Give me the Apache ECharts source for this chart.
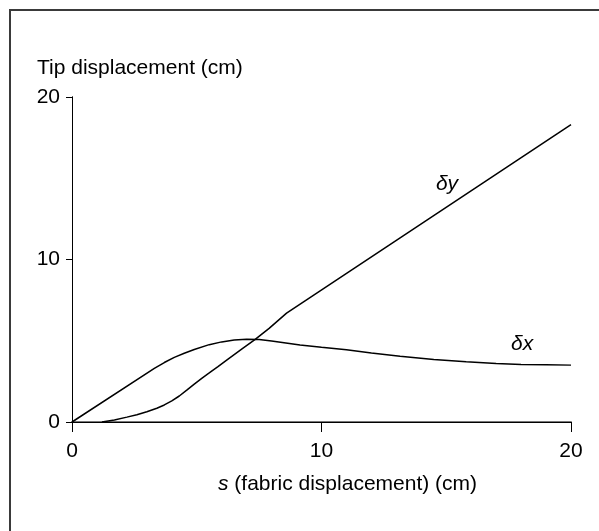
<!DOCTYPE html>
<html>
<head>
<meta charset="utf-8">
<script src="https://cdn.jsdelivr.net/npm/echarts@6/dist/echarts.min.js"></script>
<style>html,body{margin:0;padding:0;background:#fff;}#c{width:599px;height:531px;}</style>
</head>
<body>
<div id="c"></div>
<script>
// δy curve (s, displacement)
const dyS = [1.2, 1.7, 2.2, 2.6, 3.0, 3.4, 3.7, 4.0, 4.3, 4.6, 4.9, 5.2, 5.5, 5.85, 6.2, 6.8, 7.33, 7.9, 8.6, 20];
const dyV = [0, 0.12, 0.3, 0.45, 0.63, 0.85, 1.05, 1.3, 1.6, 1.96, 2.33, 2.69, 3.02, 3.41, 3.81, 4.48, 5.07, 5.76, 6.7, 18.3];
// δx curve
const dxS = [0, 3.3, 3.7, 4.1, 4.5, 4.9, 5.5, 6.0, 6.5, 7.0, 7.5, 8.0, 8.5, 9.14, 10, 11, 12, 13.15, 14.5, 15.8, 17, 18, 19, 20];
const dxV = [0, 3.3, 3.66, 3.98, 4.23, 4.46, 4.76, 4.93, 5.04, 5.09, 5.07, 4.98, 4.88, 4.74, 4.6, 4.44, 4.25, 4.05, 3.85, 3.71, 3.6, 3.54, 3.52, 3.5];
const xTicks = [0, 10, 20];
const yTicks = [0, 10, 20];
const labelDy = {s: 15.03, v: 14.65, text: 'δy'};
const labelDx = {s: 18.04, v: 4.8, text: 'δx'};

const FONT = '"Liberation Sans", Arial, sans-serif';
const FS = 21;
const chart = echarts.init(document.getElementById('c'), null, {renderer: 'canvas'});
const zip = (a, b) => a.map((v, i) => [v, b[i]]);
function mk(l) {
  return {
    symbol: 'rect', symbolSize: 1, silent: true,
    itemStyle: {color: 'rgba(0,0,0,0)'},
    label: {show: true, position: 'inside', formatter: l.text, fontFamily: FONT, fontSize: FS, fontStyle: 'italic', color: '#000'},
    data: [{coord: [l.s, l.v]}]
  };
}
chart.setOption({
  animation: false,
  backgroundColor: '#fff',
  grid: {left: 72, top: 97, right: 28, bottom: 109, show: false},
  xAxis: [{
    type: 'value', min: 0, max: 20, interval: 10,
    axisLine: {show: true, lineStyle: {color: '#777', width: 2}},
    axisTick: {show: true, length: 10, inside: false, lineStyle: {color: '#000', width: 1}},
    axisLabel: {show: true, margin: 19, fontFamily: FONT, fontSize: FS, color: '#000',
      formatter: v => xTicks.includes(v) ? String(v) : ''},
    splitLine: {show: false}
  }, {
    type: 'value', position: 'top', min: 0, max: 20,
    axisLine: {show: true, lineStyle: {color: '#000', width: 1}},
    axisTick: {show: false}, axisLabel: {show: false}, splitLine: {show: false}
  }],
  yAxis: [{
    type: 'value', min: 0, max: 20, interval: 10,
    axisLine: {show: true, lineStyle: {color: '#000', width: 1}},
    axisTick: {show: true, length: 6, lineStyle: {color: '#000', width: 1}},
    axisLabel: {show: true, margin: 12, fontFamily: FONT, fontSize: FS, color: '#000',
      formatter: v => yTicks.includes(v) ? String(v) : ''},
    splitLine: {show: false}
  }, {
    type: 'value', position: 'right', min: 0, max: 20,
    axisLine: {show: true, lineStyle: {color: '#000', width: 1}},
    axisTick: {show: false}, axisLabel: {show: false}, splitLine: {show: false}
  }],
  series: [{
    type: 'line', name: 'δy', data: zip(dyS, dyV), showSymbol: false, smooth: false,
    lineStyle: {color: '#000', width: 1.5}, markPoint: mk(labelDy)
  }, {
    type: 'line', name: 'δx', data: zip(dxS, dxV), showSymbol: false, smooth: false,
    lineStyle: {color: '#000', width: 1.5}, markPoint: mk(labelDx)
  }],
  graphic: [
    {type: 'rect', shape: {x: 10, y: 10, width: 800, height: 800}, style: {fill: 'none', stroke: '#3a3a3a', lineWidth: 2}, silent: true},
    {type: 'text', left: 37, top: 58, style: {text: 'Tip displacement (cm)', font: FS + 'px ' + FONT, fill: '#000'}},
    {type: 'text', left: 218, top: 474, style: {
      text: '{i|s} (fabric displacement) (cm)', font: FS + 'px ' + FONT, fill: '#000',
      rich: {i: {fontStyle: 'italic', fontFamily: FONT, fontSize: FS, fill: '#000'}}
    }}
  ]
});
</script>
</body>
</html>
